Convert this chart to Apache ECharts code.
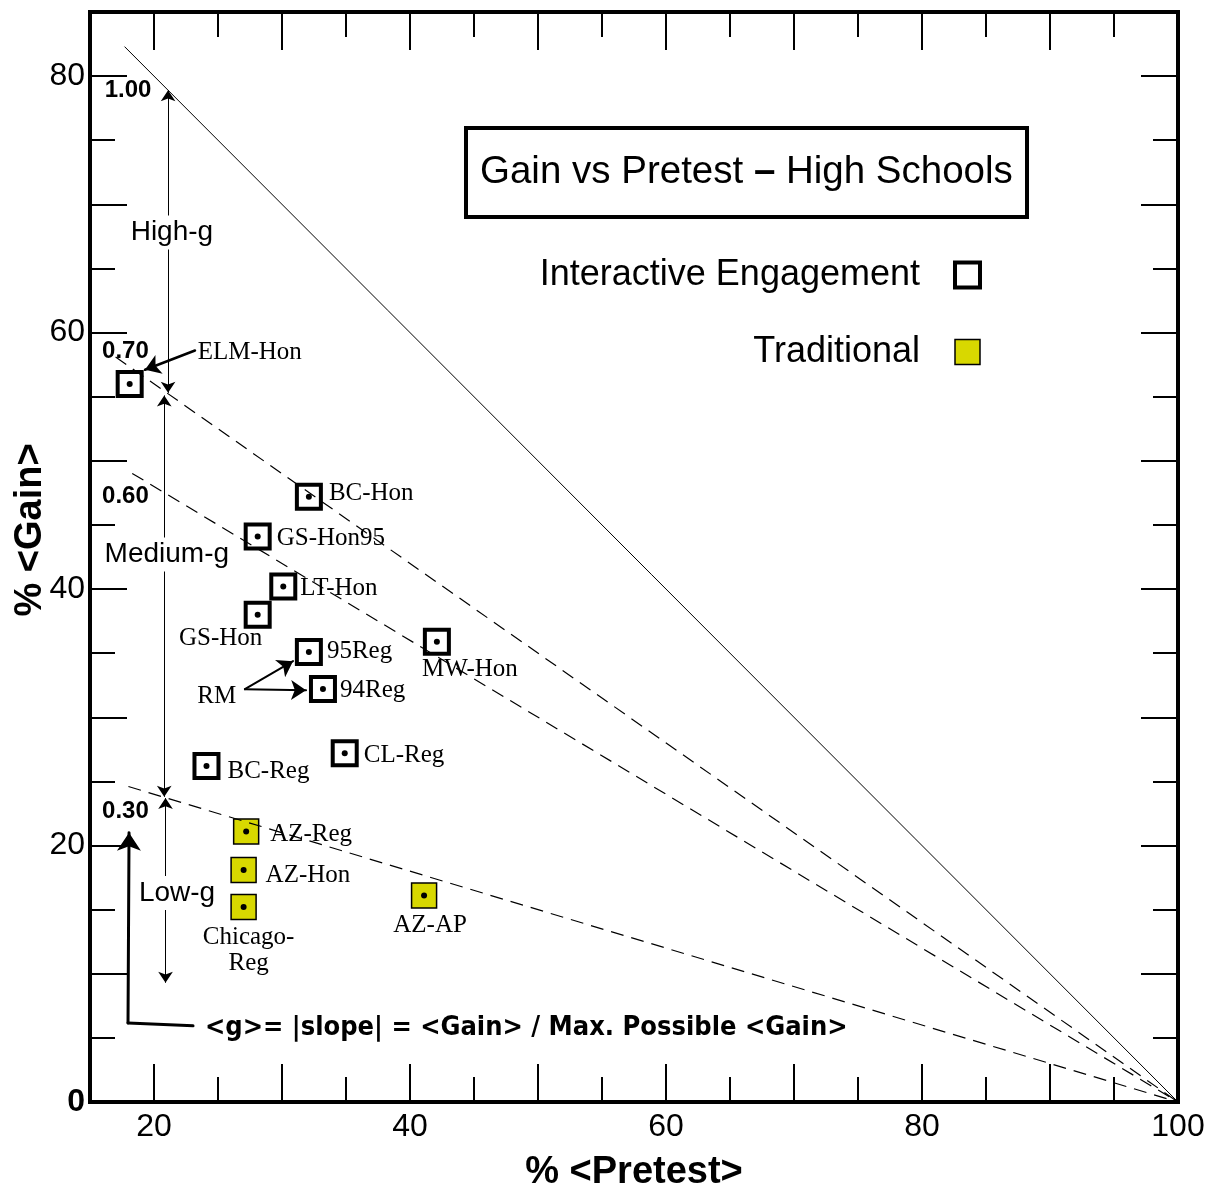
<!DOCTYPE html>
<html>
<head>
<meta charset="utf-8">
<script src="https://cdn.jsdelivr.net/npm/echarts@6/dist/echarts.min.js"></script>
<style>
  html, body { margin: 0; padding: 0; background: #fff; }
  #chart { width: 1209px; height: 1183px; }
</style>
</head>
<body>
<div id="chart"></div>
<script>
// interactive engagement courses
var ieNames = ['ELM-Hon', 'BC-Hon', 'GS-Hon95', 'LT-Hon', 'GS-Hon', '95Reg', '94Reg', 'MW-Hon', 'BC-Reg', 'CL-Reg']
var iePretest = [18.1, 32.1, 28.1, 30.1, 28.1, 32.1, 33.2, 42.1, 24.1, 34.9]
var ieGain = [56.0, 47.2, 44.1, 40.2, 38.0, 35.1, 32.2, 35.9, 26.2, 27.2]

// traditional courses
var tradNames = ['AZ-Reg', 'AZ-Hon', 'Chicago-Reg', 'AZ-AP']
var tradPretest = [27.2, 27.0, 27.0, 41.1]
var tradGain = [21.1, 18.1, 15.2, 16.1]

// constant-g lines: gain = g * (100 - pretest)
var gValues = [1.00, 0.70, 0.60, 0.30]
var gText = ['1.00', '0.70', '0.60', '0.30']
var gLineStart = [17.7, 17.0, 18.3, 18.0]

// band arrows (pretest, gain from, gain to)
var bandNames = ['High-g', 'Medium-g', 'Low-g']
var bandX = [21.1, 20.8, 20.9]
var bandFrom = [55.3, 55.1, 23.7]
var bandTo = [78.9, 23.8, 9.3]

var xLabels = [20, 40, 60, 80, 100]
var xLongTicks = [20, 30, 40, 50, 60, 70, 80, 90, 100]
var xShortTicks = [25, 35, 45, 55, 65, 75, 85, 95]
var yLabels = [0, 20, 40, 60, 80]
var yLongTicks = [10, 20, 30, 40, 50, 60, 70, 80]
var yShortTicks = [5, 15, 25, 35, 45, 55, 65, 75]

var SANS = 'Liberation Sans, Arial, Helvetica, sans-serif'
var SERIF = 'Liberation Serif, Times New Roman, serif'
var NARROW = 'DejaVu Sans Condensed, Liberation Sans, sans-serif'

// where each point name sits: [align, dx, dy] from the point centre
var labelPlace = {
  'ELM-Hon': ['left', 68, -31],
  'BC-Hon': ['left', 20, -3],
  'GS-Hon95': ['left', 19, 2],
  'LT-Hon': ['left', 17, 2],
  'GS-Hon': ['center', -37, 24],
  '95Reg': ['left', 18, 0],
  '94Reg': ['left', 17, 1],
  'MW-Hon': ['center', 33, 28],
  'BC-Reg': ['left', 21, 5],
  'CL-Reg': ['left', 19, 2],
  'AZ-Reg': ['left', 24, 3],
  'AZ-Hon': ['left', 22, 6],
  'Chicago-Reg': ['center', 5, 43],
  'AZ-AP': ['center', 6, 30]
}

function pointData(names, xs, ys) {
  return names.map(function (n, i) {
    var p = labelPlace[n]
    return {
      name: n,
      value: [xs[i], ys[i]],
      label: {
        show: true,
        position: 'inside',
        align: p[0],
        offset: [p[1], p[2]],
        formatter: n === 'Chicago-Reg' ? 'Chicago-\nReg' : n,
        fontFamily: SERIF,
        fontSize: 25,
        lineHeight: 26,
        color: '#000'
      }
    }
  })
}

var chart = echarts.init(document.getElementById('chart'), null, { renderer: 'canvas' })

function xAxisOf(pos, long, withLabel) {
  return {
    type: 'value', min: 15, max: 100, position: pos,
    axisLine: { show: long, onZero: false, lineStyle: { color: '#000', width: 4, cap: 'square' } },
    axisTick: {
      show: true, inside: true, length: long ? 38 : 25,
      customValues: long ? xLongTicks : xShortTicks,
      lineStyle: { color: '#000', width: 2 }
    },
    axisLabel: {
      show: withLabel, customValues: xLabels, margin: 9,
      fontSize: 32, color: '#000', fontFamily: SANS
    },
    splitLine: { show: false },
    name: withLabel ? '% <Pretest>' : '',
    nameLocation: 'middle', nameGap: 52, nameMoveOverlap: false,
    nameTextStyle: { fontSize: 38, fontWeight: 'bold', color: '#000', fontFamily: SANS }
  }
}

function yAxisOf(pos, long, withLabel) {
  return {
    type: 'value', min: 0, max: 85, position: pos,
    axisLine: { show: long, onZero: false, lineStyle: { color: '#000', width: 4, cap: 'square' } },
    axisTick: {
      show: true, inside: true, length: long ? 37 : 25,
      customValues: long ? yLongTicks : yShortTicks,
      lineStyle: { color: '#000', width: 2 }
    },
    axisLabel: {
      show: withLabel, customValues: yLabels, margin: 5,
      fontSize: 32, color: '#000', fontFamily: SANS,
      formatter: function (v) { return v === 0 ? '{z|0}' : String(v) },
      rich: { z: { fontSize: 32, fontWeight: 'bold', color: '#000', fontFamily: SANS } }
    },
    splitLine: { show: false },
    name: withLabel ? '% <Gain>' : '',
    nameLocation: 'middle', nameGap: 40, nameMoveOverlap: false,
    nameTextStyle: { fontSize: 38, fontWeight: 'bold', color: '#000', fontFamily: SANS, padding: [0, 0, 0, 54] }
  }
}

var gLines = gValues.map(function (g, i) {
  return {
    type: 'line', silent: true, z: 3, symbol: 'none', animation: false,
    data: [[gLineStart[i], g * (100 - gLineStart[i])], [100, 0]],
    lineStyle: { color: '#000', width: i === 0 ? 1 : 1.2, type: i === 0 ? 'solid' : [13, 8] }
  }
})

var notes = []
gText.forEach(function (t, i) {
  var ny = [78.9, 58.5, 47.2, 22.7][i]
  notes.push({ value: [i === 0 ? 17.97 : 17.77, ny], label: { formatter: t, fontSize: 24, fontWeight: 'bold', fontFamily: SANS, color: '#000' } })
})
var bandLabelAt = [[21.4, 67.8], [21.0, 42.7], [21.8, 16.3]]
bandNames.forEach(function (t, i) {
  notes.push({ value: bandLabelAt[i], label: { formatter: t, fontSize: 28, fontFamily: SANS, color: '#000', backgroundColor: '#fff', padding: [3, 2] } })
})
notes.push({ value: [24.9, 31.6], label: { formatter: 'RM', fontSize: 25, fontFamily: SERIF, color: '#000' } })
notes.push({ value: [23.98, 5.78], label: { formatter: '<g>= |slope| = <Gain> / Max. Possible <Gain>', align: 'left', fontSize: 27, fontWeight: 'bold', fontFamily: NARROW, color: '#000' } })

var option = {
  animation: false,
  backgroundColor: '#fff',
  grid: { left: 90, right: 31, top: 12, bottom: 81, containLabel: false, outerBoundsMode: 'none' },
  title: {
    text: '{n|Gain vs Pretest }{b|–}{n| High Schools}',
    left: 466, top: 128,
    padding: [25, 14],
    borderColor: '#000', borderWidth: 4,
    textStyle: {
      fontWeight: 'normal',
      rich: {
        n: { fontSize: 38.5, fontFamily: SANS, fontWeight: 'normal', color: '#000' },
        b: { fontSize: 38.5, fontFamily: SANS, fontWeight: 'bold', color: '#000' }
      }
    }
  },
  legend: {
    orient: 'vertical', right: 222, top: 252, align: 'right',
    itemWidth: 25, itemHeight: 25, itemGap: 41,
    selectedMode: false,
    textStyle: { fontSize: 36, fontFamily: SANS, color: '#000', padding: [0, 30, 0, 0] },
    data: [
      { name: 'Interactive Engagement', icon: 'rect', itemStyle: { color: '#fff', borderColor: '#000', borderWidth: 4 } },
      { name: 'Traditional', icon: 'rect', itemStyle: { color: '#d8d800', borderColor: '#000', borderWidth: 1.5 } }
    ]
  },
  xAxis: [xAxisOf('bottom', true, true), xAxisOf('bottom', false, false), xAxisOf('top', true, false), xAxisOf('top', false, false)],
  yAxis: [yAxisOf('left', true, true), yAxisOf('left', false, false), yAxisOf('right', true, false), yAxisOf('right', false, false)],
  series: gLines.concat([
    {
      name: 'Interactive Engagement', type: 'scatter', silent: true, z: 2,
      symbol: 'rect', symbolSize: 24,
      itemStyle: { color: '#fff', borderColor: '#000', borderWidth: 4, opacity: 1 },
      data: pointData(ieNames, iePretest, ieGain)
    },
    {
      name: 'Traditional', type: 'scatter', silent: true, z: 2,
      symbol: 'rect', symbolSize: 25,
      itemStyle: { color: '#d8d800', borderColor: '#000', borderWidth: 1.5, opacity: 1 },
      data: pointData(tradNames, tradPretest, tradGain)
    },
    {
      name: 'centre dots', type: 'scatter', silent: true, z: 5,
      symbol: 'circle', symbolSize: 6,
      itemStyle: { color: '#000', opacity: 1 },
      data: iePretest.map(function (x, i) { return [x, ieGain[i]] })
        .concat(tradPretest.map(function (x, i) { return [x, tradGain[i]] }))
    },
    {
      name: 'band arrows', type: 'lines', coordinateSystem: 'cartesian2d', silent: true, z: 4,
      symbol: ['arrow', 'arrow'], symbolSize: 11,
      lineStyle: { color: '#000', width: 1, opacity: 1, curveness: 0 },
      data: bandNames.map(function (n, i) {
        return { coords: [[bandX[i], bandFrom[i]], [bandX[i], bandTo[i]]] }
      })
    },
    {
      name: 'pointers', type: 'lines', coordinateSystem: 'cartesian2d', silent: true, z: 4,
      symbol: ['none', 'arrow'], symbolSize: 15,
      lineStyle: { color: '#000', width: 2.5, opacity: 1, curveness: 0, cap: 'round' },
      data: [
        { coords: [[23.2, 58.6], [19.3, 57.1]] },
        { coords: [[27.1, 32.19], [30.86, 34.38]], lineStyle: { width: 2 } },
        { coords: [[27.1, 32.19], [31.88, 32.11]], lineStyle: { width: 2 } },
        { coords: [[17.97, 6.17], [18.05, 21.0]], lineStyle: { width: 3 }, symbolSize: 18 }
      ]
    },
    {
      name: 'pointer tail', type: 'lines', coordinateSystem: 'cartesian2d', silent: true, z: 4,
      symbol: 'none',
      lineStyle: { color: '#000', width: 3, opacity: 1, curveness: 0, cap: 'round' },
      data: [{ coords: [[23.05, 5.94], [17.97, 6.17]] }]
    },
    {
      name: 'notes', type: 'scatter', silent: true, z: 6,
      symbolSize: 1, itemStyle: { color: 'rgba(0,0,0,0)', opacity: 1 },
      label: { show: true, position: 'inside', color: '#000' },
      data: notes
    }
  ])
}

chart.setOption(option)
</script>
</body>
</html>
